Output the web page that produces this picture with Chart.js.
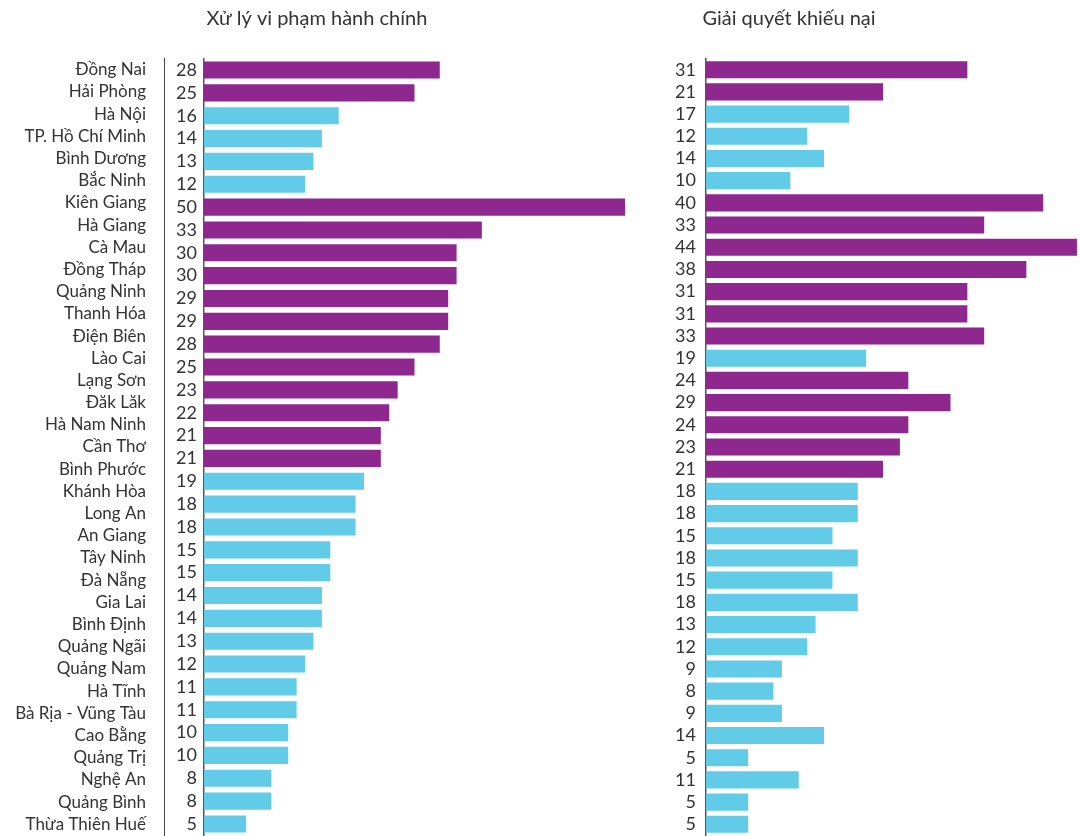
<!DOCTYPE html>
<html>
<head>
<meta charset="utf-8">
<script src="https://cdn.jsdelivr.net/npm/chart.js@4/dist/chart.umd.min.js"></script>
<style>
  body { margin: 0; background: #fff; }
  canvas { position: absolute; top: 0; }
  #violationsChart { left: 0; }
  #complaintsChart { left: 496px; }
</style>
</head>
<body>
<canvas id="violationsChart" width="634" height="836"></canvas>
<canvas id="complaintsChart" width="586" height="836"></canvas>
<script>
// Province names, shared by both panels
const provinces = [
    'Đồng Nai', 'Hải Phòng', 'Hà Nội', 'TP. Hồ Chí Minh', 'Bình Dương', 'Bắc Ninh',
    'Kiên Giang', 'Hà Giang', 'Cà Mau', 'Đồng Tháp', 'Quảng Ninh', 'Thanh Hóa',
    'Điện Biên', 'Lào Cai', 'Lạng Sơn', 'Đăk Lăk', 'Hà Nam Ninh', 'Cần Thơ',
    'Bình Phước', 'Khánh Hòa', 'Long An', 'An Giang', 'Tây Ninh', 'Đà Nẵng',
    'Gia Lai', 'Bình Định', 'Quảng Ngãi', 'Quảng Nam', 'Hà Tĩnh', 'Bà Rịa - Vũng Tàu',
    'Cao Bằng', 'Quảng Trị', 'Nghệ An', 'Quảng Bình', 'Thừa Thiên Huế'
];

// Xử lý vi phạm hành chính
const violations = [
    28, 25, 16, 14, 13, 12, 50, 33, 30, 30, 29, 29, 28, 25, 23, 22, 21,
    21, 19, 18, 18, 15, 15, 14, 14, 13, 12, 11, 11, 10, 10, 8, 8, 5
];
const violationsHigh = [
    1, 1, 0, 0, 0, 0, 1, 1, 1, 1, 1, 1, 1, 1, 1, 1, 1,
    1, 0, 0, 0, 0, 0, 0, 0, 0, 0, 0, 0, 0, 0, 0, 0, 0
];

// Giải quyết khiếu nại
const complaints = [
    31, 21, 17, 12, 14, 10, 40, 33, 44, 38, 31, 31, 33, 19, 24, 29, 24, 23,
    21, 18, 18, 15, 18, 15, 18, 13, 12, 9, 8, 9, 14, 5, 11, 5, 5
];
const complaintsHigh = [
    1, 1, 0, 0, 0, 0, 1, 1, 1, 1, 1, 1, 1, 0, 1, 1, 1, 1,
    1, 0, 0, 0, 0, 0, 0, 0, 0, 0, 0, 0, 0, 0, 0, 0, 0
];

const PURPLE = '#8e278e';
const CYAN = '#61cbe8';
const TEXT = '#333333';
const FONT = 'Lato, "Open Sans", sans-serif';

Chart.defaults.font.family = FONT;
Chart.defaults.color = TEXT;

function titleOpts(text) {
    return {
        display: true,
        text: text,
        color: TEXT,
        font: { size: 20, weight: 'normal' },
        padding: { top: 7, bottom: 27.6 }
    };
}

// fixed axis width, and no extra room reserved above/below for the tick labels
function fixWidth(width) {
    return (scale) => {
        scale.width = width;
        scale.paddingTop = 0;
        scale.paddingBottom = 0;
    };
}

function valueAxis(width, pad) {
    return {
        type: 'category',
        axis: 'y',
        position: 'left',
        offset: true,
        weight: 0,
        grid: { display: false, drawTicks: false },
        border: { display: true, color: '#555', width: 1.5 },
        ticks: { autoSkip: false, padding: pad, font: { size: 18 }, color: TEXT },
        afterFit: fixWidth(width)
    };
}

const commonPlugins = {
    legend: { display: false },
    tooltip: { enabled: false }
};

// left panel: value labels sit on the bar axis, province names on an outer axis
new Chart(document.getElementById('violationsChart'), {
    type: 'bar',
    data: {
        labels: violations.map(String),
        datasets: [{
            data: violations,
            backgroundColor: violationsHigh.map(h => h ? PURPLE : CYAN),
            categoryPercentage: 1,
            barPercentage: 0.75,
            xAxisID: 'x',
            yAxisID: 'y'
        }]
    },
    options: {
        indexAxis: 'y',
        responsive: false,
        animation: false,
        devicePixelRatio: 1,
        layout: { padding: { top: 0, bottom: 0.6, left: 0, right: 0 } },
        scales: {
            y: valueAxis(40, 7),
            names: {
                type: 'category',
                axis: 'y',
                position: 'left',
                labels: provinces,
                offset: true,
                weight: 1,
                grid: { display: false, drawTicks: false },
                border: { display: true, color: '#444', width: 1 },
                ticks: { autoSkip: false, padding: 18, font: { size: 17 }, color: TEXT },
                afterFit: fixWidth(164)
            },
            x: { display: false, min: 0, max: 51.07 }
        },
        plugins: Object.assign({ title: titleOpts('Xử lý vi phạm hành chính') }, commonPlugins)
    }
});

// right panel
new Chart(document.getElementById('complaintsChart'), {
    type: 'bar',
    data: {
        labels: complaints.map(String),
        datasets: [{
            data: complaints,
            backgroundColor: complaintsHigh.map(h => h ? PURPLE : CYAN),
            categoryPercentage: 1,
            barPercentage: 0.77,
            xAxisID: 'x',
            yAxisID: 'y'
        }]
    },
    options: {
        indexAxis: 'y',
        responsive: false,
        animation: false,
        devicePixelRatio: 1,
        layout: { padding: { top: 0, bottom: 0.6, left: 0, right: 0 } },
        scales: {
            y: valueAxis(210, 10),
            x: { display: false, min: 0, max: 44.6 }
        },
        plugins: Object.assign({ title: titleOpts('Giải quyết khiếu nại') }, commonPlugins)
    }
});
</script>
</body>
</html>
